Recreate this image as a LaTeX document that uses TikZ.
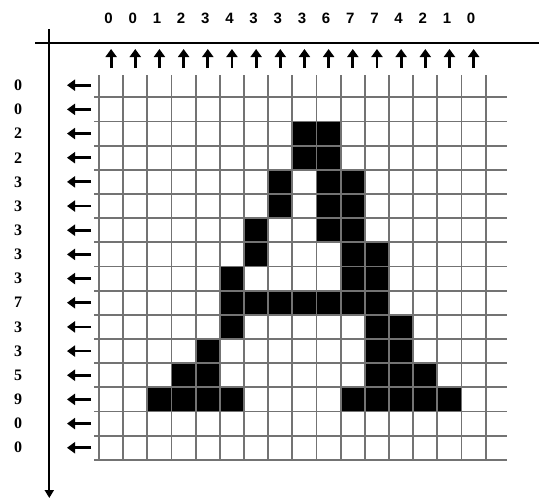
\documentclass[tikz,border=0pt]{standalone}
\usepackage{fontspec}
\setmainfont{Liberation Serif}
\newfontfamily\colfont{Liberation Sans}
\usetikzlibrary{arrows.meta}
\tikzset{
  gridline/.style={draw=black!55,line width=1.8pt},
  axisline/.style={line width=2.2pt},
  hint/.style={line width=2.8pt,-{Triangle[width=11pt,length=8pt]}},
  collabel/.style={font={\colfont\bfseries\fontsize{15}{15}\selectfont}},
  rowlabel/.style={font={\bfseries\fontsize{16}{16}\selectfont}},
}
\begin{document}
\begin{tikzpicture}[x=1pt,y=-1pt]
\useasboundingbox (0,0) rectangle (539,499);
% the letter, as row/column cells
\foreach \r/\c in {2/8,2/9,3/8,3/9,4/7,4/9,4/10,5/7,5/9,5/10,6/6,6/9,6/10,
  7/6,7/10,7/11,8/5,8/10,8/11,9/5,9/6,9/7,9/8,9/9,9/10,9/11,10/5,10/11,10/12,
  11/4,11/11,11/12,12/3,12/4,12/11,12/12,12/13,
  13/2,13/3,13/4,13/5,13/10,13/11,13/12,13/13,13/14}
  \fill ({99+24.17*\c},{97.3+24.17*(\r-1)}) rectangle +(24.17,24.17);
% grid
\foreach \k in {0,...,16}
  \draw[gridline] ({99+24.17*\k},75) -- ({99+24.17*\k},461);
\foreach \k in {0,...,15}
  \draw[gridline] (94,{97.3+24.17*\k}) -- (507,{97.3+24.17*\k});
% axes
\coordinate (xa) at (35,42.7);
\coordinate (xb) at (539,42.7);
\coordinate (ya) at (49.3,29);
\coordinate (yb) at (49.3,498);
\draw[axisline] (xa) -- (xb);
\draw[axisline,-{Triangle[width=9pt,length=8pt]}] (ya) -- (yb);
% column sums
\foreach \v [count=\i from 0] in {0,0,1,2,3,4,3,3,3,6,7,7,4,2,1,0}{
  \node[collabel] (c\i) at ({108.6+24.17*\i},18) {\v};
  \coordinate (cb\i) at ({111.1+24.17*\i},68);
  \coordinate (ct\i) at ({111.1+24.17*\i},49);
  \draw[hint] (cb\i) -- (ct\i);
}
% row sums
\foreach \v [count=\i from 0] in {0,0,2,2,3,3,3,3,3,7,3,3,5,9,0,0}{
  \node[rowlabel] (r\i) at (18,{85.2+24.17*\i}) {\v};
  \coordinate (rb\i) at (91,{85.2+24.17*\i});
  \coordinate (rt\i) at (67,{85.2+24.17*\i});
  \draw[hint] (rb\i) -- (rt\i);
}
\end{tikzpicture}
\end{document}
